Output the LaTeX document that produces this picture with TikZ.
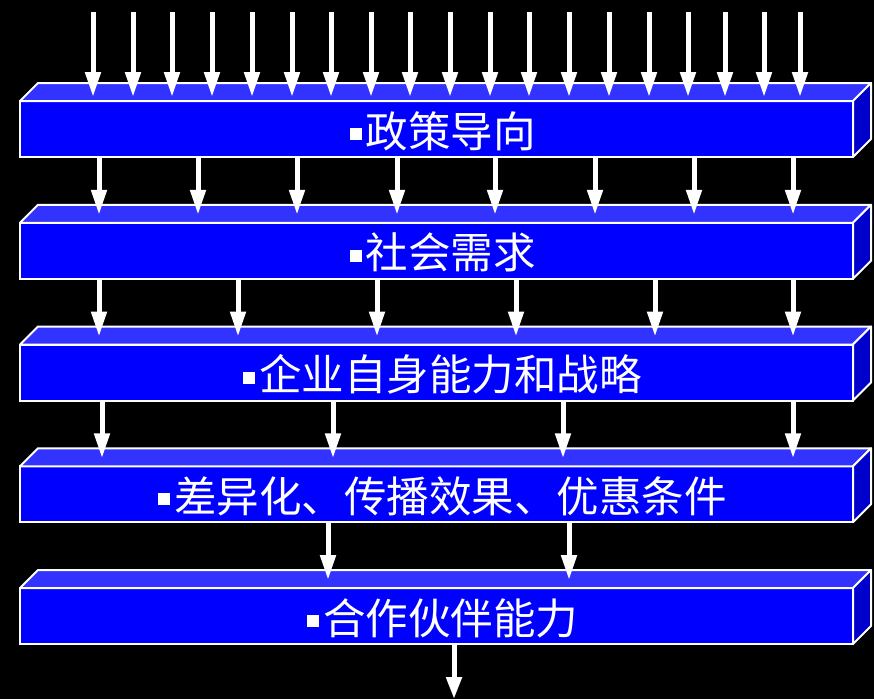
\documentclass[tikz,border=0pt]{standalone}
\usepackage{fontspec}
\newfontfamily\cjk{Noto Sans CJK SC}
\usetikzlibrary{arrows.meta,calc}
\definecolor{frontc}{HTML}{0000FF}
\definecolor{topc}{HTML}{3333FF}
\definecolor{sidec}{HTML}{0000CC}
\newcommand\sqbullet{\raisebox{7pt}{\rule{12pt}{12pt}}\hspace{4pt}}
\begin{document}
\begin{tikzpicture}[x=1pt,y=-1pt,
  front/.style={draw=white,line width=2pt,fill=frontc,minimum width=833pt,minimum height=56pt,inner sep=0pt,outer sep=0pt},
  topface/.style={draw=white,line width=2pt,fill=topc,line join=round},
  sideface/.style={draw=white,line width=2pt,fill=sidec,line join=round},
  lbl/.style={text=white,font=\cjk\fontsize{42.5}{42.5}\selectfont,inner sep=0pt},
  flow/.style={draw=white,line width=5pt,-{Triangle[width=15pt,length=25pt]}}]
\fill[black] (0,0) rectangle (874,699);
\useasboundingbox (0,0) rectangle (874,699);
% boxes
\foreach \n/\yy in {1/129,2/250.75,3/372.5,4/494.25,5/616}{
  \node[front] (b\n) at (436.5,\yy) {};
  \filldraw[topface] (b\n.north west) -- ++(18,-18) -- ($(b\n.north east)+(18,-18)$) -- (b\n.north east) -- cycle;
  \filldraw[sideface] (b\n.north east) -- ++(18,-18) -- ($(b\n.south east)+(18,-18)$) -- (b\n.south east) -- cycle;
}
% labels
\node[lbl] (l1) at ($(b1.center)+(6,2)$) {\sqbullet 政策导向};
\node[lbl] (l2) at ($(b2.center)+(6,2)$) {\sqbullet 社会需求};
\node[lbl] (l3) at ($(b3.center)+(6,2)$) {\sqbullet 企业自身能力和战略};
\node[lbl] (l4) at ($(b4.center)+(6,2)$) {\sqbullet 差异化、传播效果、优惠条件};
\node[lbl] (l5) at ($(b5.center)+(6,2)$) {\sqbullet 合作伙伴能力};
% top incoming arrows
\foreach \x [count=\i] in {93,133,172,212,252,292,331,371,410,450,490,529,569,609,649,688,725,764,800}{
  \coordinate (t\i) at (\x,12);
  \draw[flow] (t\i) -- ($(b1.north west)+(\x-20,-4)$);
}
% between boxes
\foreach \x in {99,198,297,397,495,595,694,793}{
  \draw[flow] ($(b1.south west)+(\x-20,0)$) -- ($(b2.north west)+(\x-20,-8)$);
}
\foreach \x in {99,238,377,516,655,793}{
  \draw[flow] ($(b2.south west)+(\x-20,0)$) -- ($(b3.north west)+(\x-20,-8)$);
}
\foreach \x in {102,333,563,793}{
  \draw[flow] ($(b3.south west)+(\x-20,0)$) -- ($(b4.north west)+(\x-20,-8)$);
}
\foreach \x in {328,569}{
  \draw[flow] ($(b4.south west)+(\x-20,0)$) -- ($(b5.north west)+(\x-20,-8)$);
}
% outgoing arrow
\coordinate (out) at (454,699);
\draw[flow,-{Triangle[width=15pt,length=22pt]}] ($(b5.south west)+(434,0)$) -- (out);
\end{tikzpicture}
\end{document}
